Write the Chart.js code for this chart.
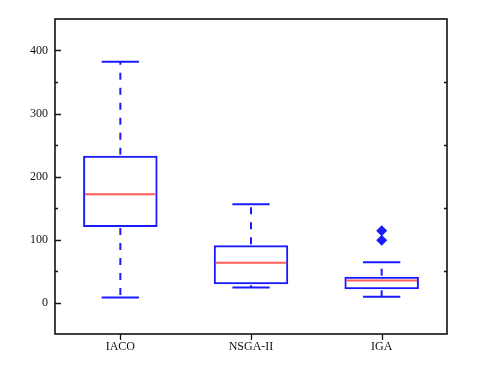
<!DOCTYPE html>
<html>
<head>
<meta charset="utf-8">
<script src="https://cdn.jsdelivr.net/npm/chart.js@4/dist/chart.umd.min.js"></script>
<style>
  html, body { margin: 0; padding: 0; background: #ffffff; }
  #wrap { width: 483px; height: 370px; position: relative; }
</style>
</head>
<body>
<div id="wrap"><canvas id="c" width="483" height="370"></canvas></div>
<script>
// ---- data ----
const categories   = ['IACO', 'NSGA-II', 'IGA'];
const whiskerLow   = [8, 24, 9];
const quartile1    = [120, 29, 21];
const medians      = [172, 63, 35];
const quartile3    = [233, 91, 41];
const whiskerHigh  = [382, 156, 64];
const outlierCat   = ['IGA', 'IGA'];
const outlierVal   = [99, 114];
const yTickValues  = [0, 100, 200, 300, 400];
const yMinorValues = [50, 150, 250, 350];

const BLUE = '#1a1aff';
const RED = '#ff5c5c';
const INK = '#111111';

const boxPlugin = {
  id: 'boxParts',
  afterDatasetsDraw(chart) {
    const ctx = chart.ctx;
    const y = chart.scales.y;
    const meta = chart.getDatasetMeta(0);
    ctx.save();
    meta.data.forEach((bar, i) => {
      const cx = bar.x;
      const half = bar.width / 2;
      const yQ1 = y.getPixelForValue(quartile1[i]);
      const yQ3 = y.getPixelForValue(quartile3[i]);
      const yLo = y.getPixelForValue(whiskerLow[i]);
      const yHi = y.getPixelForValue(whiskerHigh[i]);
      const yMed = y.getPixelForValue(medians[i]);
      // dashed whiskers
      ctx.strokeStyle = BLUE;
      ctx.lineWidth = 2;
      ctx.setLineDash([7, 8]);
      ctx.beginPath(); ctx.moveTo(cx, yQ3 - 1); ctx.lineTo(cx, yHi); ctx.stroke();
      ctx.beginPath(); ctx.moveTo(cx, yQ1 + 1); ctx.lineTo(cx, yLo); ctx.stroke();
      ctx.setLineDash([]);
      // caps
      ctx.beginPath();
      ctx.moveTo(cx - half / 2, yHi); ctx.lineTo(cx + half / 2, yHi);
      ctx.moveTo(cx - half / 2, yLo); ctx.lineTo(cx + half / 2, yLo);
      ctx.stroke();
      // median
      ctx.strokeStyle = RED;
      ctx.lineWidth = 2;
      ctx.beginPath();
      ctx.moveTo(cx - half + 2, yMed); ctx.lineTo(cx + half - 2, yMed);
      ctx.stroke();
    });
    ctx.restore();
  },
  afterDraw(chart) {
    const ctx = chart.ctx;
    const a = chart.chartArea;
    const y = chart.scales.y;
    const x = chart.scales.x;
    ctx.save();
    ctx.strokeStyle = INK;
    ctx.lineWidth = 1.6;
    ctx.strokeRect(a.left, a.top, a.right - a.left, a.bottom - a.top);
    ctx.lineWidth = 1.3;
    ctx.beginPath();
    yTickValues.forEach(v => {
      const py = Math.round(y.getPixelForValue(v)) + 0.5;
      ctx.moveTo(a.left, py); ctx.lineTo(a.left + 6, py);
    });
    yMinorValues.forEach(v => {
      const py = Math.round(y.getPixelForValue(v)) + 0.5;
      ctx.moveTo(a.left, py); ctx.lineTo(a.left + 3, py);
      ctx.moveTo(a.right, py); ctx.lineTo(a.right - 3, py);
    });
    categories.forEach((c, i) => {
      const px = Math.round(x.getPixelForValue(i)) + 0.5;
      ctx.moveTo(px, a.bottom); ctx.lineTo(px, a.bottom + 6);
    });
    ctx.stroke();
    ctx.restore();
  }
};

const fontSpec = { family: "'Liberation Serif', 'Times New Roman', serif", size: 12 };

new Chart(document.getElementById('c'), {
  data: {
    labels: categories,
    datasets: [
      {
        type: 'bar',
        data: quartile1.map((v, i) => [v, quartile3[i]]),
        backgroundColor: 'rgba(0,0,0,0)',
        borderColor: BLUE,
        borderWidth: 2,
        borderSkipped: false,
        barPercentage: 0.57,
        categoryPercentage: 1.0
      },
      {
        type: 'line',
        data: outlierCat.map((c, i) => ({ x: c, y: outlierVal[i] })),
        showLine: false,
        pointStyle: 'rectRot',
        pointRadius: 5.5,
        pointHoverRadius: 5.5,
        backgroundColor: BLUE,
        borderColor: BLUE,
        borderWidth: 0
      }
    ]
  },
  options: {
    responsive: false,
    animation: false,
    devicePixelRatio: 1,
    layout: { padding: { left: 0, right: 36, top: 19, bottom: 0 } },
    plugins: { legend: { display: false }, tooltip: { enabled: false } },
    scales: {
      x: {
        type: 'category',
        offset: true,
        grid: { display: false, drawTicks: false },
        border: { display: false },
        ticks: { color: INK, font: fontSpec, padding: 6, maxRotation: 0 },
        afterFit(s) { s.height = 36; }
      },
      y: {
        type: 'linear',
        min: -50,
        max: 450,
        grid: { display: false, drawTicks: false },
        border: { display: false },
        ticks: { color: INK, font: fontSpec, padding: 7 },
        afterBuildTicks(s) { s.ticks = yTickValues.map(v => ({ value: v })); },
        afterFit(s) { s.width = 55; }
      }
    }
  },
  plugins: [boxPlugin]
});
</script>
</body>
</html>
